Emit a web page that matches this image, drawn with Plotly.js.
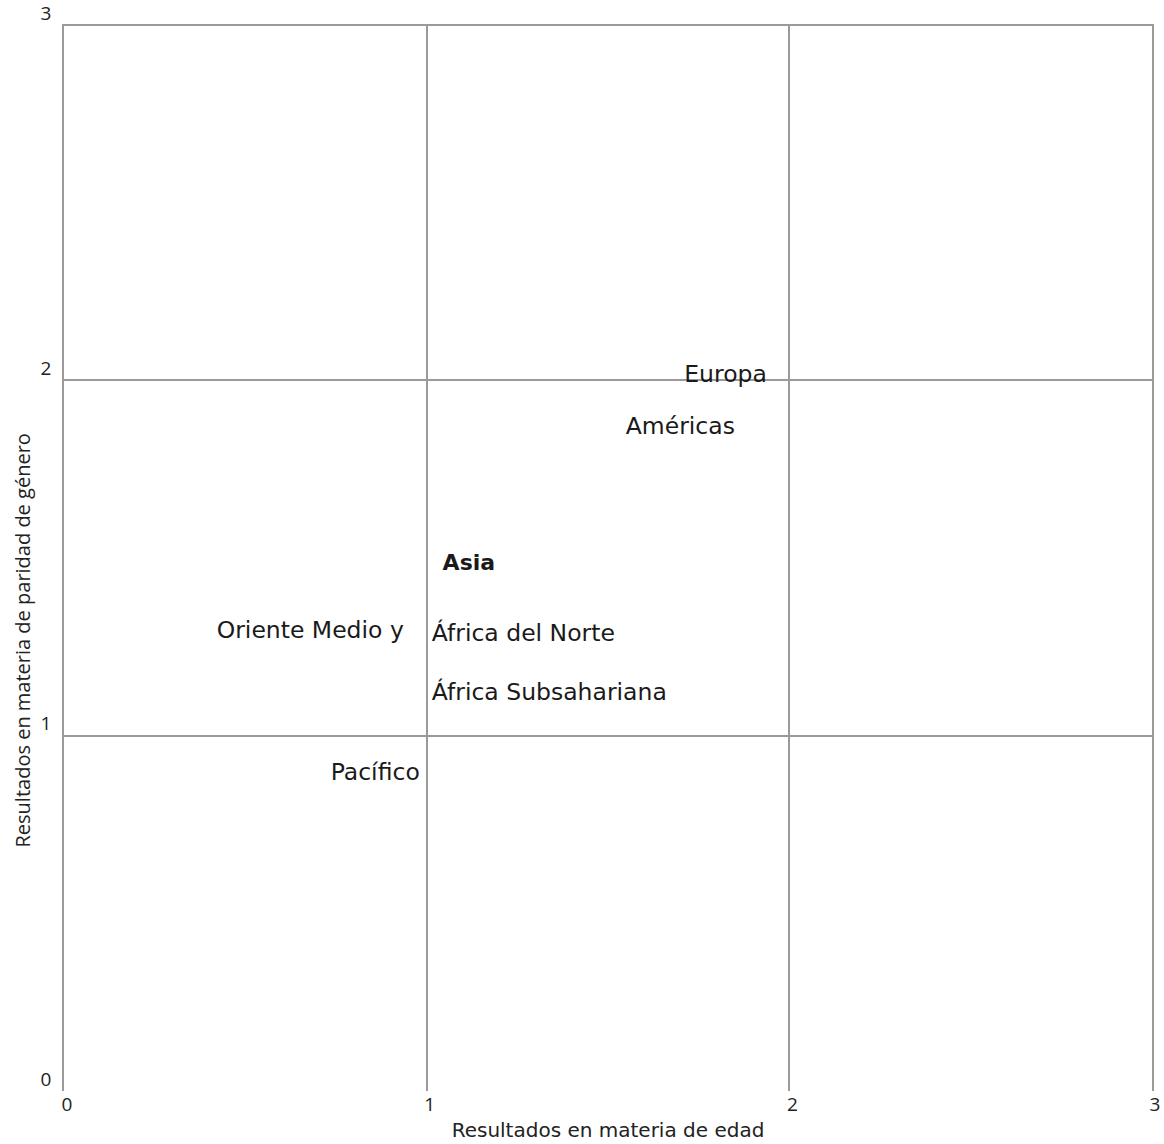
<!DOCTYPE html>
<html>
<head>
<meta charset="utf-8">
<script src="https://cdn.plot.ly/plotly-3.0.1.min.js"></script>
<style>html,body{margin:0;padding:0;background:#fff;}#chart{width:1164px;height:1144px;}</style>
</head>
<body>
<div id="chart"></div>
<script>
// Region labels and their positions (age results on x, gender parity results on y)
const regions = ['Europa', 'Américas', 'Asia', 'Oriente Medio y', 'África del Norte', 'África Subsahariana', 'Pacífico'];
const ageResults = [1.938, 1.850, 1.044, 0.937, 1.014, 1.014, 0.981];
const genderResults = [2.013, 1.867, 1.482, 1.291, 1.284, 1.117, 0.891];
const axisTicks = [0, 1, 2, 3];
const xTitle = 'Resultados en materia de edad';
const yTitle = 'Resultados en materia de paridad de género';

// style per label (not data)
const sides = {'Europa':'middle left','Américas':'middle left','Asia':'middle right','Oriente Medio y':'middle left','África del Norte':'middle right','África Subsahariana':'middle right','Pacífico':'middle left'};
const boldSet = new Set(['Asia']);

const traces = regions.map((r, i) => ({
  type: 'scatter',
  mode: 'text',
  x: [ageResults[i]],
  y: [genderResults[i]],
  text: [r],
  textposition: sides[r],
  textfont: {family: 'DejaVu Sans, Verdana, sans-serif', size: boldSet.has(r) ? 22 : 23.5, color: '#1a1a1a', weight: boldSet.has(r) ? 'bold' : 'normal'},
  hoverinfo: 'text',
  showlegend: false,
  cliponaxis: false
}));

const tickFont = {family: 'Open Sans, sans-serif', size: 19, color: '#222'};

const layout = {
  width: 1164,
  height: 1144,
  margin: {l: 64, r: 12, t: 24, b: 53},
  paper_bgcolor: '#fff',
  plot_bgcolor: '#fff',
  showlegend: false,
  xaxis: {
    range: [0, 3],
    tickvals: axisTicks,
    ticktext: axisTicks.map(String),
    showgrid: true,
    gridcolor: '#9a9a9a',
    gridwidth: 1.5,
    zeroline: false,
    showline: false,
    ticks: '',
    tickfont: tickFont,
    ticklabelshift: 3,
    ticklabelstandoff: 0,
    title: {text: xTitle, font: {family: 'DejaVu Sans, Verdana, sans-serif', size: 20, color: '#222'}, standoff: 6},
    fixedrange: true
  },
  yaxis: {
    range: [0, 3.003],
    tickvals: axisTicks,
    ticktext: axisTicks.map(String),
    showgrid: true,
    gridcolor: '#9a9a9a',
    gridwidth: 1.5,
    zeroline: false,
    showline: true,
    mirror: true,
    linecolor: '#9a9a9a',
    linewidth: 1.5,
    ticks: '',
    tickfont: tickFont,
    ticklabelshift: -12,
    ticklabelstandoff: 7,
    ticklabeloverflow: 'allow',
    fixedrange: true
  },
  annotations: [{
    text: yTitle,
    xref: 'paper', yref: 'paper',
    x: 0, xshift: -42,
    y: 0.5, yshift: -83,
    xanchor: 'center',
    textangle: -90,
    showarrow: false,
    font: {family: 'Open Sans, sans-serif', size: 20, color: '#222'}
  }]
};

Plotly.newPlot('chart', traces, layout, {displayModeBar: false, responsive: false});
</script>
</body>
</html>
